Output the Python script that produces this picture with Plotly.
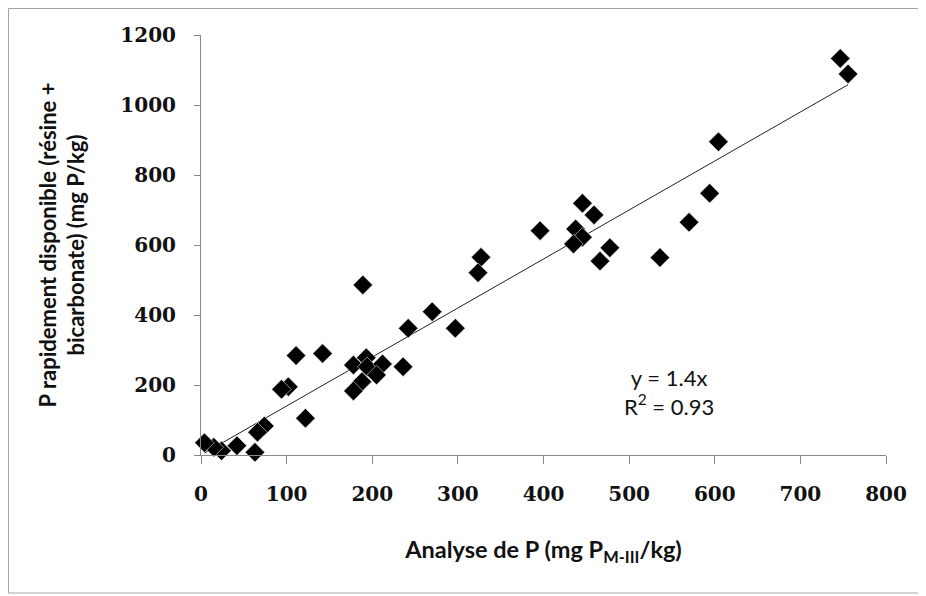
import plotly.graph_objects as go

# Data
analyse_p = [746.6, 755.7, 604.3, 594, 570, 536, 445.5, 459, 396, 437.5, 445.5, 435, 477.5, 466,
             327, 323.5, 189, 270, 297, 242, 142, 111, 178, 193, 194, 212, 205, 236, 188, 178,
             102, 94, 122, 74, 66, 63, 42, 24, 15, 4]
p_rapide = [1133, 1088.6, 895, 747.6, 665, 564, 719, 686, 641, 646, 622, 603, 592, 554,
            565, 521, 486, 409.5, 362, 362, 290, 284, 257, 278, 252, 260, 228.6, 252, 209.5, 183,
            195, 187.6, 105, 83, 65, 7.6, 26.7, 12, 22, 35]
slope = 1.4
x_ticks = [0, 100, 200, 300, 400, 500, 600, 700, 800]
y_ticks = [0, 200, 400, 600, 800, 1000, 1200]
equation_text = "y = 1.4x<br>R<sup>2</sup> = 0.93"

trend_x = [min(analyse_p), max(analyse_p)]
trend_y = [slope * v for v in trend_x]

fig = go.Figure()
fig.add_trace(go.Scatter(x=trend_x, y=trend_y, mode="lines",
                         line=dict(color="#222222", width=1), showlegend=False, cliponaxis=False))
fig.add_trace(go.Scatter(x=analyse_p, y=p_rapide, mode="markers",
                         marker=dict(symbol="diamond", size=15, color="black",
                                     line=dict(color="#dfe6f0", width=0.6)),
                         showlegend=False, cliponaxis=False))

# page is offset by the 8px body margin
OFF = 8
W, H = 926 - OFF, 596 - OFF
L, T = 201 - OFF, 35 - OFF
pw, ph = 685, 420
R, B = W - L - pw, H - T - ph

def px(x):  # page pixel -> paper x
    return (x - OFF - L) / pw

def py(y):  # page pixel -> paper y
    return (T + ph - (y - OFF)) / ph

tick_font = dict(family="DejaVu Serif", size=20, color="#111111")

fig.update_layout(
    width=W, height=H,
    margin=dict(l=L, r=R, t=T, b=B),
    paper_bgcolor="white", plot_bgcolor="white",
    xaxis=dict(range=[0, 800], tickvals=x_ticks, ticktext=[f"<b>{v}</b>" for v in x_ticks],
               showgrid=False, zeroline=False, showline=True, linecolor="#888888", linewidth=1,
               ticks="outside", ticklen=8, tickcolor="#888888", tickfont=tick_font,
               ticklabelstandoff=13,
               title=dict(text="<b>Analyse de P (mg P<sub>M-III</sub>/kg)</b>",
                          font=dict(family="Lato", size=23.5, color="#111111"),
                          standoff=36)),
    yaxis=dict(range=[0, 1200], tickvals=y_ticks, ticktext=[f"<b>{v}</b>" for v in y_ticks],
               showgrid=False, zeroline=False, showline=True, linecolor="#888888", linewidth=1,
               ticks="outside", ticklen=6, tickcolor="#888888", tickfont=tick_font,
               ticklabelstandoff=14,
               title=dict(text="<b>P rapidement disponible (résine +<br>bicarbonate) (mg P/kg)</b>",
                          font=dict(family="Lato", size=22, color="#111111"), standoff=29)),
    annotations=[dict(x=px(669), y=py(392), xref="paper", yref="paper", text=equation_text,
                      showarrow=False, align="center", xanchor="center", yanchor="middle",
                      font=dict(family="Lato", size=22, color="#111111"))],
    shapes=[dict(type="rect", xref="paper", yref="paper",
                 x0=px(8.5), x1=px(919), y0=py(593), y1=py(8.5),
                 line=dict(color="#a6a6a6", width=1), layer="below")],
)

fig.write_html("out.html")
